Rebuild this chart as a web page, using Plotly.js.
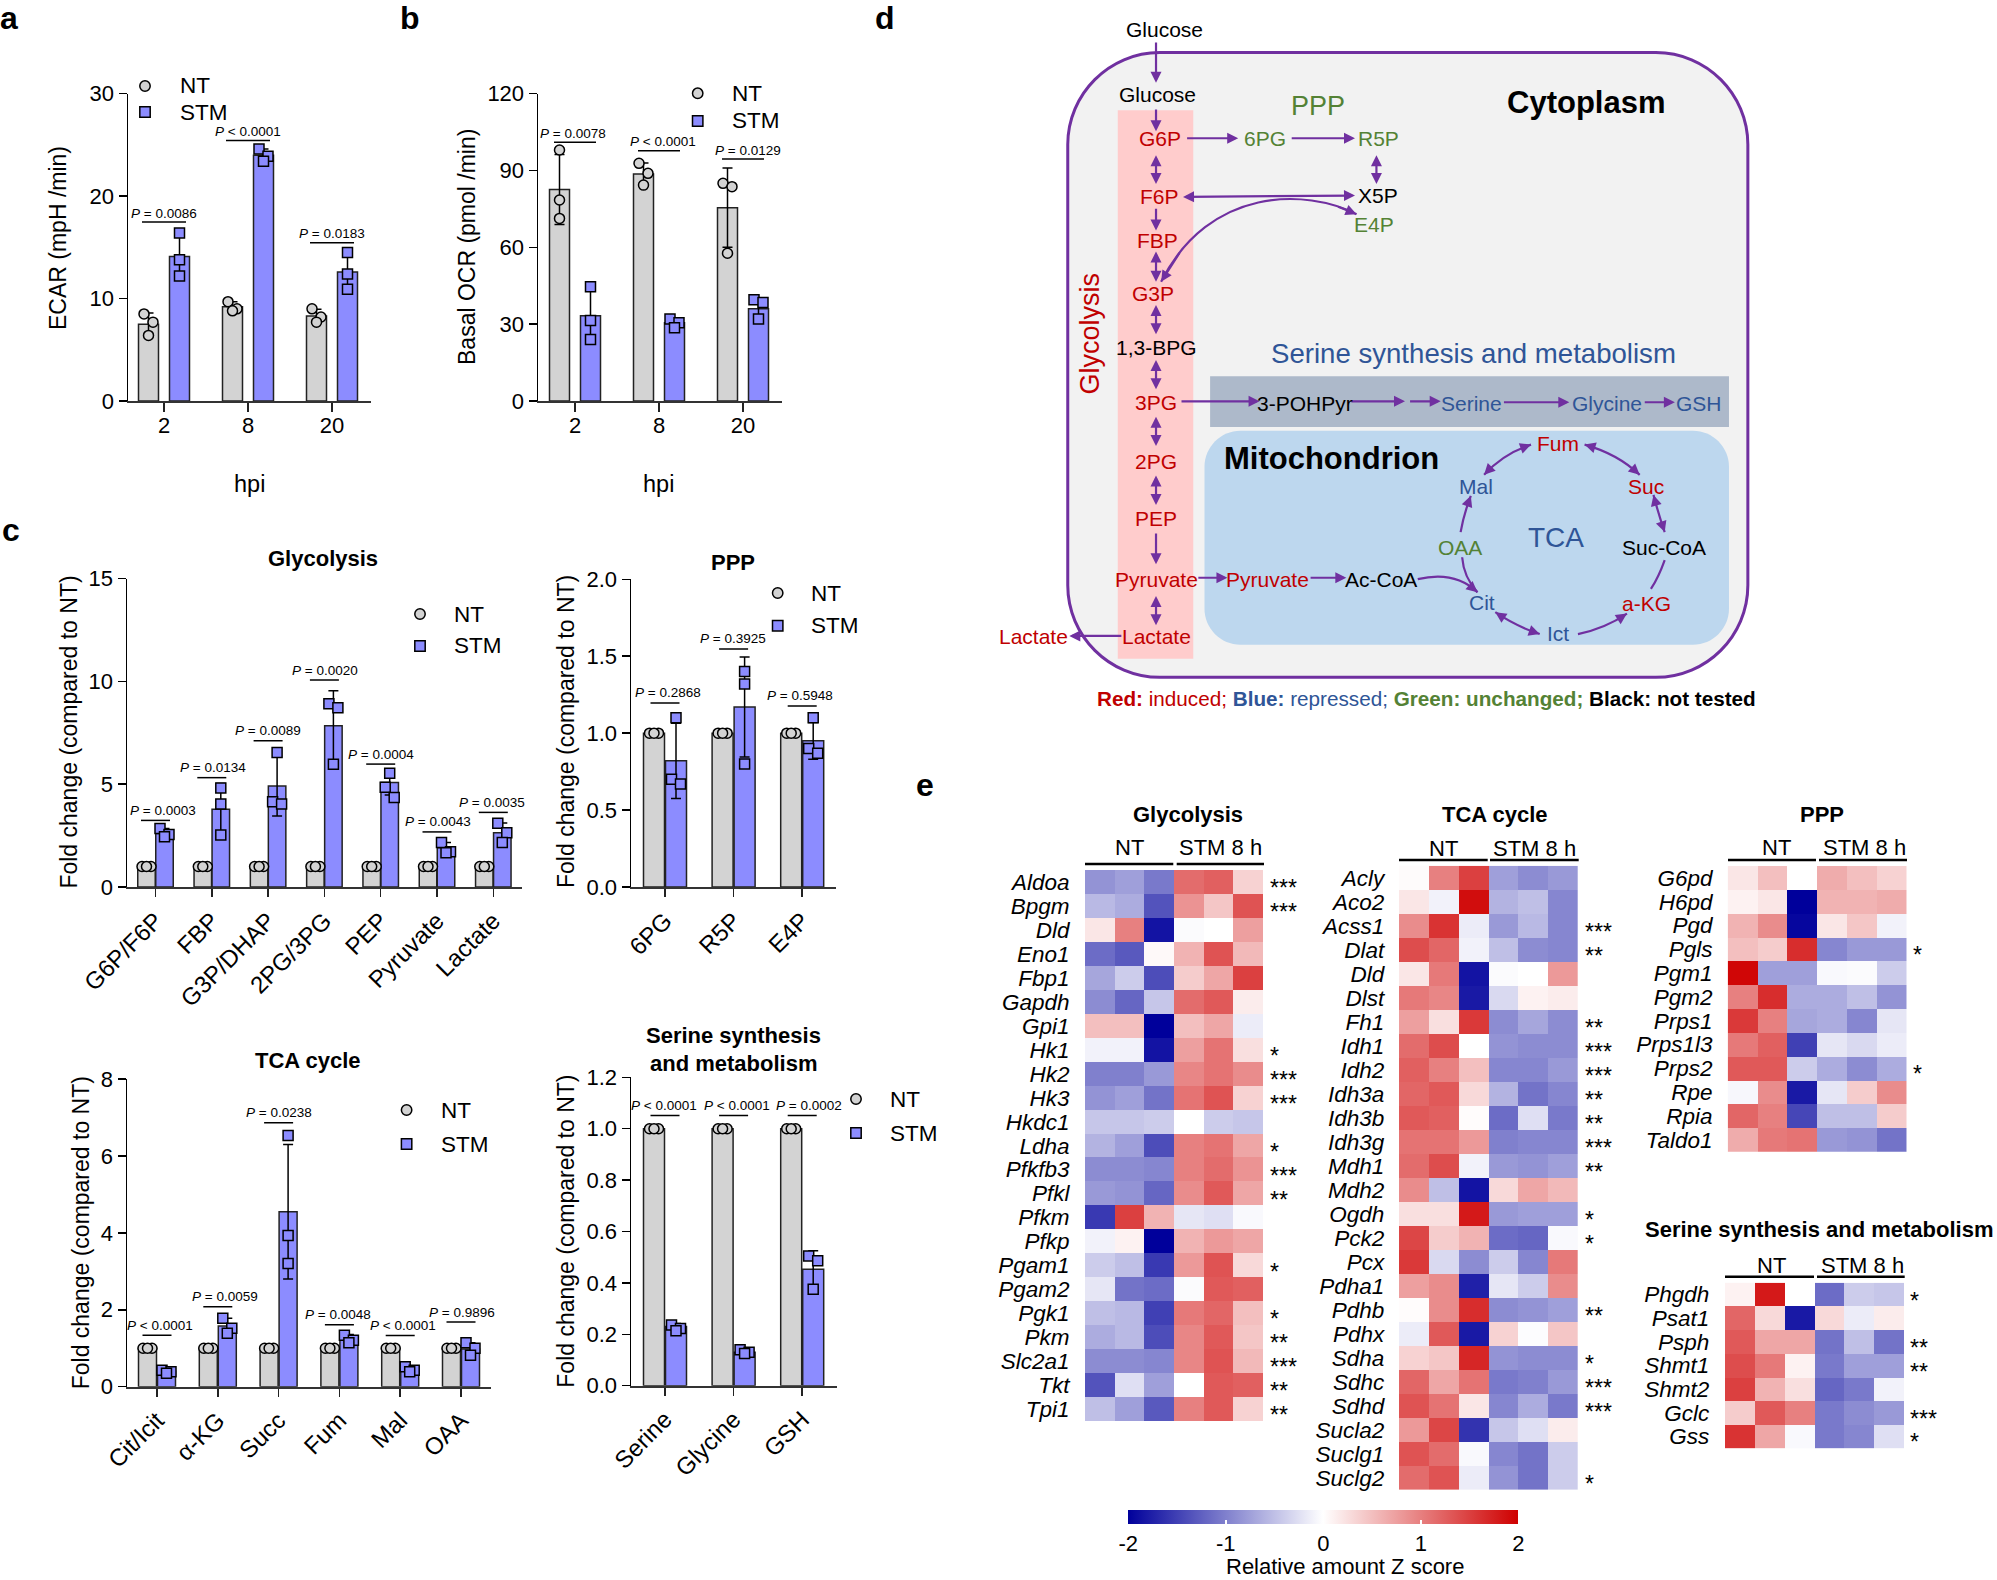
<!DOCTYPE html>
<html><head><meta charset="utf-8">
<script src="https://cdn.plot.ly/plotly-3.0.0.min.js"></script>
<style>html,body{margin:0;padding:0;background:#fff}</style>
</head><body><div id="chart" style="width:1997px;height:1580px"></div>
<script>
// ---------- DATA: bar panels ----------
const hpiCats=['2','8','20'];
const ecarNT=[7.5,9.2,8.3];
const ecarSTM=[14.1,24.0,12.6];
const ecarNTerr=[1.1,0.5,0.65];
const ecarSTMerr=[1.9,0.6,1.8];
const ecarNTpts=[[8.5,7.7,6.4],[9.7,9.0,8.8],[9.0,8.2,7.7]];
const ecarSTMpts=[[16.4,13.8,12.2],[24.6,23.9,23.4],[14.5,12.4,10.9]];
const ecarP=['<i>P</i> = 0.0086','<i>P</i> < 0.0001','<i>P</i> = 0.0183'];
const ecarLevels=[17.47,25.44,15.45];

const ocrNT=[82.6,88.6,75.5];
const ocrSTM=[33.3,30.6,36];
const ocrNTerr=[13.7,4.3,15.5];
const ocrSTMerr=[10.5,1.8,3.9];
const ocrNTpts=[[98,78.5,71.3],[92.8,88.9,84.3],[85,83.7,57.7]];
const ocrSTMpts=[[44.6,31.4,24],[32,30.6,28.6],[39.5,38.5,32]];
const ocrP=['<i>P</i> = 0.0078','<i>P</i> < 0.0001','<i>P</i> = 0.0129'];
const ocrLevels=[101,97.7,94.5];

const glyCats=['G6P/F6P','FBP','G3P/DHAP','2PG/3PG','PEP','Pyruvate','Lactate'];
const glyNT=[1,1,1,1,1,1,1];
const glySTM=[2.6,3.78,4.91,7.85,5.08,1.91,2.64];
const glySTMerr=[0.25,1.25,1.45,1.7,0.6,0.26,0.47];
const glySTMpts=[[2.85,2.55,2.45],[4.82,4.04,2.53],[6.55,4.15,4.04],[8.92,8.72,5.97],[5.53,4.85,4.36],[2.17,1.72,1.67],[3.1,2.64,2.17]];
const glyP=['<i>P</i> = 0.0003','<i>P</i> = 0.0134','<i>P</i> = 0.0089','<i>P</i> = 0.0020','<i>P</i> = 0.0004','<i>P</i> = 0.0043','<i>P</i> = 0.0035'];
const glyLevels=[3.24,5.32,7.12,10.07,5.98,2.68,3.63];

const pppCats=['6PG','R5P','E4P'];
const pppNT=[1,1,1];
const pppSTM=[0.82,1.17,0.95];
const pppSTMerr=[0.245,0.325,0.12];
const pppSTMpts=[[1.10,0.70,0.67],[1.40,1.32,0.80],[1.10,0.90,0.87]];
const pppP=['<i>P</i> = 0.2868','<i>P</i> = 0.3925','<i>P</i> = 0.5948'];
const pppLevels=[1.196,1.547,1.177];

const tcaCats=['Cit/Icit','α-KG','Succ','Fum','Mal','OAA'];
const tcaNT=[1,1,1,1,1,1];
const tcaSTM=[0.40,1.58,4.55,1.26,0.45,0.98];
const tcaSTMerr=[0.05,0.2,1.75,0.1,0.07,0.16];
const tcaSTMpts=[[0.43,0.39,0.35],[1.78,1.52,1.39],[6.53,3.93,3.2],[1.34,1.21,1.14],[0.52,0.43,0.39],[1.14,1.0,0.82]];
const tcaP=['<i>P</i> < 0.0001','<i>P</i> = 0.0059','<i>P</i> = 0.0238','<i>P</i> = 0.0048','<i>P</i> < 0.0001','<i>P</i> = 0.9896'];
const tcaLevels=[1.335,2.08,6.865,1.61,1.33,1.68];

const serCats=['Serine','Glycine','GSH'];
const serNT=[1,1,1];
const serSTM=[0.23,0.13,0.453];
const serSTMerr=[0.012,0.01,0.072];
const serSTMpts=[[0.236,0.223,0.214],[0.14,0.13,0.125],[0.505,0.486,0.375]];
const serP=['<i>P</i> < 0.0001','<i>P</i> < 0.0001','<i>P</i> = 0.0002'];
const serLevels=[1.051,1.051,1.051];

// ---------- DATA: heatmaps (NT x3, STM 8 h x3) ----------
const hmCols=['NT1','NT2','NT3','STM1','STM2','STM3'];
const hGlyGenes=['Aldoa','Bpgm','Dld','Eno1','Fbp1','Gapdh','Gpi1','Hk1','Hk2','Hk3','Hkdc1','Ldha','Pfkfb3','Pfkl','Pfkm','Pfkp','Pgam1','Pgam2','Pgk1','Pkm','Slc2a1','Tkt','Tpi1'];
const hGlyZ=[[-0.85,-0.75,-1.05,1.15,1.25,0.35],[-0.55,-0.65,-1.35,0.85,0.45,1.35],[0.2,1.0,-1.85,-0.03,0,0.75],[-1.15,-1.3,0.05,0.6,1.35,0.55],[-0.7,-0.4,-1.4,0.4,0.7,1.5],[-0.9,-1.2,-0.45,1.15,1.3,0.15],[0.5,0.5,-2,0.5,0.7,-0.15],[-0.1,-0.1,-1.85,0.75,1.1,0.25],[-1.0,-1.0,-0.8,0.95,1.1,0.9],[-0.85,-0.75,-1.1,1.1,1.35,0.35],[-0.45,-0.45,-0.4,0,-0.4,-0.45],[-0.6,-0.75,-1.4,1.0,1.1,0.7],[-0.9,-0.9,-0.95,1.0,1.15,0.85],[-0.8,-0.85,-1.2,0.9,1.3,0.7],[-1.55,1.5,0.6,-0.2,-0.25,-0.05],[-0.1,0.1,-2,0.6,0.8,0.7],[-0.4,-0.5,-1.55,0.8,1.35,0.3],[-0.2,-1.1,-1.15,-0.03,1.3,1.25],[-0.5,-0.55,-1.5,1.05,1.2,0.5],[-0.65,-0.55,-1.4,0.95,1.3,0.45],[-0.9,-0.9,-0.95,0.95,1.35,0.55],[-1.35,-0.25,-0.75,0,1.3,1.25],[-0.5,-0.75,-1.3,1.0,1.3,0.35]];
const hGlyStars=['***','***','','','','','','*','***','***','','*','***','**','','','*','','*','**','***','**','**'];

const hTcaGenes=['Acly','Aco2','Acss1','Dlat','Dld','Dlst','Fh1','Idh1','Idh2','Idh3a','Idh3b','Idh3g','Mdh1','Mdh2','Ogdh','Pck2','Pcx','Pdha1','Pdhb','Pdhx','Sdha','Sdhc','Sdhd','Sucla2','Suclg1','Suclg2'];
const hTcaZ=[[0.03,1.0,1.5,-0.75,-0.9,-0.8],[0.2,-0.1,1.9,-0.6,-0.5,-0.95],[0.9,1.6,-0.15,-0.8,-0.55,-0.95],[1.4,1.2,-0.1,-0.5,-0.9,-0.95],[0.2,1.05,-1.85,-0.03,0,0.8],[1.05,0.95,-1.8,-0.3,0.1,0.15],[0.75,0.25,1.55,-0.9,-0.7,-0.9],[1.15,1.4,0,-0.85,-0.9,-0.9],[1.25,1.0,0.5,-0.95,-0.95,-0.8],[1.2,1.3,0.3,-0.6,-1.1,-0.95],[1.3,1.25,0.02,-1.15,-0.25,-1.05],[1.1,1.1,0.8,-1.0,-0.95,-0.95],[1.15,1.4,-0.1,-0.8,-0.85,-0.75],[0.9,-0.5,-1.85,0.3,0.7,0.55],[0.25,0.25,1.8,-0.8,-0.75,-0.75],[1.45,0.4,0.6,-1.15,-1.2,-0.05],[1.55,-0.3,-0.9,-0.4,-0.95,1.05],[0.75,0.9,-1.75,-0.2,-0.4,0.9],[0.02,0.9,1.65,-0.9,-0.85,-0.75],[-0.15,1.3,-1.8,0.35,-0.02,0.45],[0.35,0.45,1.7,-0.85,-0.9,-0.9],[1.2,0.7,1.1,-1.05,-1.0,-0.8],[1.35,1.1,0.2,-0.95,-0.65,-1.05],[0.8,1.45,-1.6,-0.45,-0.25,0.15],[1.35,1.15,-0.05,-0.95,-1.1,-0.4],[1.15,1.35,-0.15,-0.85,-1.1,-0.4]];
const hTcaStars=['','','***','**','','','**','***','***','**','**','***','**','','*','*','','','**','','*','***','***','','','*'];

const hPppGenes=['G6pd','H6pd','Pgd','Pgls','Pgm1','Pgm2','Prps1','Prps1l3','Prps2','Rpe','Rpia','Taldo1'];
const hPppZ=[[0.2,0.5,0,0.65,0.5,0.35],[0.1,0.2,-2,0.6,0.6,0.65],[0.6,0.9,-1.95,0.2,0.45,-0.1],[0.5,0.4,1.65,-0.95,-0.8,-0.8],[1.95,-0.75,-0.75,-0.05,-0.03,-0.4],[1.0,1.65,-0.65,-0.65,-0.5,-0.85],[1.55,1.0,-0.7,-0.65,-0.95,-0.2],[1.05,1.25,-1.5,-0.2,-0.3,-0.15],[1.3,1.3,-0.4,-0.65,-0.9,-0.65],[-0.06,0.9,-1.8,-0.2,0.4,0.9],[1.2,1.0,-1.45,-0.5,-0.5,0.4],[0.65,1.05,1.1,-0.8,-0.85,-1.1]];
const hPppStars=['','','','*','','','','','*','','',''];

const hSerGenes=['Phgdh','Psat1','Psph','Shmt1','Shmt2','Gclc','Gss'];
const hSerZ=[[0.1,1.8,0,-1.15,-0.4,-0.45],[1.2,0.3,-1.8,0.3,-0.15,0.15],[1.3,0.7,0.7,-1.1,-0.5,-1.1],[1.4,1.05,0.1,-1.05,-0.75,-0.75],[1.5,0.6,0.25,-1.2,-1.05,-0.1],[0.4,1.3,1.0,-1.05,-0.9,-0.8],[1.6,0.7,-0.05,-1.05,-0.95,-0.25]];
const hSerStars=['*','','**','**','','***','*'];

const cbTicks=[-2,-1,0,1,2];
const cbLabels=['-2','-1','0','1','2'];

// ---------- DRAWING ----------
const W=1997,H=1580;
const FONT='"Liberation Sans", Arial, sans-serif';
const GRAY='#D3D3D3',BLUE='#8C8CFF';
const traces=[],shapes=[],annotations=[];
const layout={width:W,height:H,margin:{l:0,r:0,t:0,b:0,autoexpand:false},paper_bgcolor:'#fff',plot_bgcolor:'rgba(0,0,0,0)',
  font:{family:FONT,color:'#000'},showlegend:false,barmode:'overlay',shapes,annotations};
const fx=x=>x/W, fy=y=>1-y/H;
function txt(text,x,y,o={}){
  annotations.push({text,xref:'paper',yref:'paper',x:fx(x),y:fy(y),showarrow:false,xanchor:o.anchor||'center',yanchor:'middle',
    textangle:o.angle||0,borderpad:0,font:{family:FONT,size:o.size||22,color:o.color||'#000'}});
}
function legendMarks(mx,tx,y1,y2){
  const r=5.2;
  shapes.push({type:'circle',xref:'paper',yref:'paper',x0:fx(mx-r),x1:fx(mx+r),y0:fy(y1+r),y1:fy(y1-r),fillcolor:GRAY,line:{color:'#000',width:1.5}});
  shapes.push({type:'rect',xref:'paper',yref:'paper',x0:fx(mx-r),x1:fx(mx+r),y0:fy(y2+r),y1:fy(y2-r),fillcolor:BLUE,line:{color:'#000',width:1.5}});
  txt('NT',tx-2.5,y1,{anchor:'left',size:22.5}); txt('STM',tx-2.5,y2,{anchor:'left',size:22.5});
}
function spread(pts,unitPx){
  // keeps close replicate symbols side by side, as the scatter-on-bar style does
  const s=[...pts]; const close=(a,b)=>Math.abs(a-b)*unitPx<11; const d=4.5;
  const a=close(s[0],s[1]),b=close(s[1],s[2]);
  if(a&&b) return [-d,d,0];
  if(a) return [-d,d,0];
  if(b) return [0,-d,d];
  return [0,0,0];
}
let axisCount=0;
function nextId(){axisCount++;return axisCount===1?'':String(axisCount);}
function barPanel(c){
  const id=nextId();
  const unitPx=(c.B-c.T)/c.ymax;
  layout['xaxis'+id]={domain:[fx(c.L),fx(c.R)],range:[(c.L-c.t0)/c.sp,(c.R-c.t0)/c.sp],anchor:'y'+id,
    tickmode:'array',tickvals:c.cats.map((_,i)=>i),ticktext:c.cats,ticks:'outside',ticklen:c.angle?8:9,tickwidth:1.5,tickcolor:'#222',
    showline:true,linewidth:2.2,linecolor:'#333',showgrid:false,zeroline:false,tickangle:c.angle||0,ticklabelstandoff:c.angle?0:-6,
    tickfont:{family:FONT,size:c.angle?24:22}};
  layout['yaxis'+id]={domain:[fy(c.B),fy(c.T)],range:[0,c.ymax],anchor:'x'+id,
    tickmode:'array',tickvals:c.yticks,ticktext:c.yticks.map(v=>c.dec?v.toFixed(c.dec):String(v)),ticks:'outside',ticklen:8,tickwidth:1.5,tickcolor:'#000',
    showline:true,linewidth:1.5,linecolor:'#000',showgrid:false,zeroline:false,tickfont:{family:FONT,size:22}};
  const xa='x'+id,ya='y'+id,w=c.bwPx/c.sp,off=c.offPx/c.sp;
  const bar=(vals,err,sgn,col,name)=>{
    const t={type:'bar',name,x:vals.map((_,i)=>i+sgn*off),y:vals,width:w,xaxis:xa,yaxis:ya,
      marker:{color:col,line:{color:'#222',width:1.5}}};
    if(err) t.error_y={type:'data',array:err,visible:true,color:'#000',thickness:1.5,width:5};
    traces.push(t);
  };
  bar(c.nt,c.ntErr,-1,GRAY,'NT'); bar(c.stm,c.stmErr,1,BLUE,'STM');
  const pts=(groups,sgn,col,sym,name)=>{
    const xs=[],ys=[];
    groups.forEach((g,i)=>{const sp=spread(g,unitPx);g.forEach((v,k)=>{xs.push(i+sgn*off+sp[k]/c.sp);ys.push(v);});});
    traces.push({type:'scatter',mode:'markers',name,x:xs,y:ys,xaxis:xa,yaxis:ya,cliponaxis:false,
      marker:{symbol:sym,size:10,color:col,line:{color:'#000',width:1.5}}});
  };
  pts(c.ntPts||c.nt.map(v=>[v,v,v]),-1,GRAY,'circle','NT');
  pts(c.stmPts,1,BLUE,'square','STM');
  c.p.forEach((label,i)=>{
    const sh=(c.pShift?c.pShift[i]:0)/c.sp;
    shapes.push({type:'line',xref:xa,yref:ya,x0:i-c.pHalf/c.sp,x1:i+c.pHalf/c.sp,y0:c.levels[i],y1:c.levels[i],line:{color:'#000',width:1.5}});
    annotations.push({text:label,xref:xa,yref:ya,x:i+sh,y:c.levels[i],yshift:c.pUp,showarrow:false,xanchor:'center',yanchor:'middle',borderpad:0,
      font:{family:FONT,size:13.5,color:'#000'}});
  });
}
barPanel({L:128,R:371,T:93.7,B:401,t0:164,sp:84,ymax:30,yticks:[0,10,20,30],cats:hpiCats,nt:ecarNT,stm:ecarSTM,ntErr:ecarNTerr,stmErr:ecarSTMerr,ntPts:ecarNTpts,stmPts:ecarSTMpts,bwPx:20,offPx:15.5,p:ecarP,levels:ecarLevels,pHalf:22,pUp:9});
barPanel({L:538,R:782,T:93.7,B:401,t0:575,sp:84,ymax:120,yticks:[0,30,60,90,120],cats:hpiCats,nt:ocrNT,stm:ocrSTM,ntErr:ocrNTerr,stmErr:ocrSTMerr,ntPts:ocrNTpts,stmPts:ocrSTMpts,bwPx:20,offPx:15.5,p:ocrP,levels:ocrLevels,pHalf:21,pUp:9,pShift:[-2,4,5]});
barPanel({L:127,R:522,T:578.7,B:887,t0:155.5,sp:56.3,ymax:15,yticks:[0,5,10,15],cats:glyCats,nt:glyNT,stm:glySTM,stmErr:glySTMerr,stmPts:glySTMpts,bwPx:17.5,offPx:9,p:glyP,levels:glyLevels,pHalf:14.5,pUp:10,angle:-45,pShift:[7,1,0,1,0,1,-1]});
barPanel({L:631,R:836,T:579.3,B:887,t0:665,sp:68.6,ymax:2,dec:1,yticks:[0,0.5,1,1.5,2],cats:pppCats,nt:pppNT,stm:pppSTM,stmErr:pppSTMerr,stmPts:pppSTMpts,bwPx:21,offPx:11,p:pppP,levels:pppLevels,pHalf:14.5,pUp:10,angle:-45,pShift:[3,-1,-2]});
barPanel({L:127,R:490.5,T:1079,B:1386.7,t0:157,sp:60.8,ymax:8,yticks:[0,2,4,6,8],cats:tcaCats,nt:tcaNT,stm:tcaSTM,stmErr:tcaSTMerr,stmPts:tcaSTMpts,bwPx:18,offPx:9.5,p:tcaP,levels:tcaLevels,pHalf:14.5,pUp:10,angle:-45,pShift:[3,7,0,-1,3,1]});
barPanel({L:631,R:836.5,T:1077.3,B:1385.7,t0:665,sp:68.6,ymax:1.2,dec:1,yticks:[0,0.2,0.4,0.6,0.8,1,1.2],cats:serCats,nt:serNT,stm:serSTM,stmErr:serSTMerr,stmPts:serSTMpts,bwPx:21,offPx:11,p:serP,levels:serLevels,pHalf:14.5,pUp:10,angle:-45,pShift:[-1,3,7]});

// axis titles and panel headings
txt('ECAR (mpH /min)',58,238,{angle:-90,size:23});
txt('Basal OCR (pmol /min)',467,247,{angle:-90,size:23});
txt('hpi',249,484,{size:23.5}); txt('hpi',658,484,{size:23.5});
const fold='Fold change (compared to NT)';
txt(fold,68.6,732,{angle:-90,size:23}); txt(fold,566,732,{angle:-90,size:23});
txt(fold,80.8,1232.5,{angle:-90,size:23}); txt(fold,566,1231.7,{angle:-90,size:23});
txt('<b>Glycolysis</b>',323,558); txt('<b>PPP</b>',733,562); txt('<b>TCA cycle</b>',308,1060.7);
txt('<b>Serine synthesis</b>',733.6,1035); txt('<b>and metabolism</b>',733.6,1063);
legendMarks(145,181,86,112); legendMarks(697.7,733,93.3,121);
legendMarks(420,455,614,646); legendMarks(777.7,812.6,593,625.7);
legendMarks(406.6,442,1110,1144); legendMarks(856,891,1099,1133);
// panel letters
[['a',9,18.5],['b',410,18.5],['c',11,530],['d',885,18.5],['e',925,785]].forEach(l=>txt('<b>'+l[0]+'</b>',l[1],l[2],{size:32}));

// heatmaps
const CS=[[0,'#00009B'],[0.5,'#FFFFFF'],[1,'#CF0000']];
function heat(c){
  const id=nextId();
  layout['xaxis'+id]={domain:[fx(c.L),fx(c.R)],anchor:'y'+id,visible:false,range:[-0.5,5.5],fixedrange:true};
  layout['yaxis'+id]={domain:[fy(c.B),fy(c.T)],anchor:'x'+id,range:[c.genes.length-0.5,-0.5],type:'category',ticks:'outside',ticklen:c.L-c.lab-3,tickcolor:'rgba(0,0,0,0)',tickwidth:0.1,
    showline:false,showgrid:false,zeroline:false,tickmode:'array',tickvals:c.genes,ticktext:c.genes,tickfont:{family:FONT,size:22.5,style:'italic'}};
  const t={type:'heatmap',x:hmCols.map((_,i)=>i),y:c.genes,z:c.z,xaxis:'x'+id,yaxis:'y'+id,colorscale:CS,zmin:-2,zmax:2,showscale:!!c.scale,xgap:0,ygap:0};
  if(c.scale) t.colorbar={orientation:'h',x:fx(1128.3),xanchor:'left',y:fy(1510.3),yanchor:'top',lenmode:'pixels',len:390.4,thicknessmode:'pixels',thickness:14,xpad:0,ypad:0,
    outlinewidth:0,tickmode:'array',tickvals:cbTicks,ticktext:cbLabels,ticks:'inside',ticklen:4,tickwidth:1.5,tickcolor:'#fff',tickfont:{family:FONT,size:22,color:'#000'}};
  traces.push(t);
  c.stars.forEach((s,i)=>{ if(s) annotations.push({text:s,xref:'paper',yref:'y'+id,x:fx(c.star),y:c.genes[i],yshift:-6,showarrow:false,xanchor:'left',yanchor:'middle',borderpad:0,font:{family:FONT,size:23,color:'#000'}}); });
  txt('<b>'+c.title+'</b>',c.tx,c.ty);
  txt('NT',c.nx,c.gy); txt('STM 8 h',c.sx,c.gy);
  [[c.l1,c.l2],[c.l3,c.l4]].forEach(p=>shapes.push({type:'line',xref:'paper',yref:'paper',x0:fx(p[0]),x1:fx(p[1]),y0:fy(c.ly),y1:fy(c.ly),line:{color:'#000',width:2.5}}));
}
heat({L:1085,R:1263.3,T:870,B:1421.3,lab:1072,star:1269,genes:hGlyGenes,z:hGlyZ,stars:hGlyStars,title:'Glycolysis',tx:1188,ty:814,nx:1129,sx:1220.7,gy:847.7,ly:864,l1:1085,l2:1173.3,l3:1176.7,l4:1264});
heat({L:1399,R:1577.7,T:865.8,B:1489.7,lab:1386.7,star:1584,genes:hTcaGenes,z:hTcaZ,stars:hTcaStars,title:'TCA cycle',tx:1495,ty:814,nx:1443,sx:1534,gy:848,ly:860,l1:1399,l2:1487.7,l3:1490,l4:1578.7,scale:true});
heat({L:1727.7,R:1906.7,T:866,B:1151.7,lab:1715,star:1912,genes:hPppGenes,z:hPppZ,stars:hPppStars,title:'PPP',tx:1822.3,ty:814,nx:1776.7,sx:1864,gy:847.7,ly:860,l1:1728,l2:1816,l3:1819,l4:1907});
heat({L:1725,R:1904,T:1282.7,B:1448.3,lab:1711.7,star:1908.7,genes:hSerGenes,z:hSerZ,stars:hSerStars,title:'Serine synthesis and metabolism',tx:1819,ty:1229,nx:1771,sx:1862,gy:1265,ly:1276.7,l1:1725,l2:1814,l3:1817,l4:1904.7});
txt('Relative amount Z score',1345,1566);

// pathway diagram (panel d)
const dX=z=>980+z/1.96, dY=z=>z/2.148;
const PUR='#7030A0',RED='#C00000',GRN='#548235',BLU='#2F5597';
const P=(x,y)=>fx(x)+','+fy(y);
function rrect(x0,y0,x1,y1,r,fill,line){
  const k=r*0.45;
  const d='M'+P(x0+r,y0)+' L'+P(x1-r,y0)+' C'+P(x1-k,y0)+' '+P(x1,y0+k)+' '+P(x1,y0+r)+' L'+P(x1,y1-r)+' C'+P(x1,y1-k)+' '+P(x1-k,y1)+' '+P(x1-r,y1)+
    ' L'+P(x0+r,y1)+' C'+P(x0+k,y1)+' '+P(x0,y1-k)+' '+P(x0,y1-r)+' L'+P(x0,y0+r)+' C'+P(x0,y0+k)+' '+P(x0+k,y0)+' '+P(x0+r,y0)+' Z';
  shapes.push({type:'path',xref:'paper',yref:'paper',path:d,fillcolor:fill,line:line||{width:0}});
}
rrect(dX(172),dY(113),dX(1505),dY(1455),92,'#F2F2F2',{color:PUR,width:3});
shapes.push({type:'rect',xref:'paper',yref:'paper',x0:fx(dX(270)),x1:fx(dX(418)),y0:fy(dY(1415)),y1:fy(dY(237)),fillcolor:'#FFCCCC',line:{width:0}});
shapes.push({type:'rect',xref:'paper',yref:'paper',x0:fx(dX(451)),x1:fx(dX(1468)),y0:fy(dY(917)),y1:fy(dY(808)),fillcolor:'#ADB9CA',line:{width:0}});
rrect(dX(440),dY(925),dX(1468),dY(1385),36,'#BDD7EE');

function arrow(x0,y0,x1,y1,both){
  const X0=dX(x0),Y0=dY(y0),X1=dX(x1),Y1=dY(y1);
  const a={text:'',xref:'paper',yref:'paper',x:fx(X1),y:fy(Y1),ax:X0-X1,ay:Y0-Y1,axref:'pixel',ayref:'pixel',showarrow:true,arrowhead:2,arrowsize:1,arrowwidth:2.2,arrowcolor:PUR};
  if(both){a.arrowside='end+start';a.startarrowhead=2;a.startarrowsize=1;}
  annotations.push(a);
}
[[345,88,345,178],[345,232,345,282],[403,297,506,297],[608,297,735,297],[777,330,777,395,1],[345,330,345,395,1],[395,423,735,420,1],[345,445,345,495],
 [345,537,345,605,1],[345,652,345,718,1],[345,770,345,836,1],[345,892,345,958,1],[345,1018,345,1085,1],[345,1143,345,1212],[345,1277,345,1343,1],[280,1366,175,1366],
 [425,1241,485,1241],[645,1241,718,1241],[392,862,548,862],[725,862,833,862],[840,862,903,862],[1024,864,1155,864],[1300,864,1362,864]].forEach(a=>arrow(...a));
function bez(p,t){let q=p.map(v=>v.slice());while(q.length>1){const n=[];for(let i=0;i<q.length-1;i++)n.push([q[i][0]*(1-t)+q[i+1][0]*t,q[i][1]*(1-t)+q[i+1][1]*t]);q=n;}return q[0];}
function curve(p,both){
  const c=p.map(v=>P(dX(v[0]),dY(v[1])));
  const d='M'+c[0]+(p.length===3?' Q':' C')+c.slice(1).join(' ');
  shapes.push({type:'path',xref:'paper',yref:'paper',path:d,line:{color:PUR,width:2.2}});
  const e=bez(p,0.88); arrow(e[0],e[1],p[p.length-1][0],p[p.length-1][1]);
  if(both){const s=bez(p,0.12); arrow(s[0],s[1],p[0][0],p[0][1]);}
}
curve([[738,460],[640,405],[450,400],[355,605]],true);
curve([[858,1244],[930,1225],[975,1272]]);
curve([[945,1197],[948,1240],[975,1272]]);
curve([[1080,955],[1025,975],[988,1020]],true);
curve([[1185,955],[1250,975],[1293,1020]],true);
curve([[1320,1063],[1330,1105],[1342,1143]],true);
curve([[962,1065],[948,1105],[942,1143]],true);
curve([[1010,1315],[1050,1345],[1097,1362]],true);
curve([[1172,1362],[1225,1350],[1268,1318]]);
curve([[1315,1265],[1330,1240],[1342,1203]]);

const dT=(t,zx,zy,color,o={})=>txt(t,dX(zx),dY(zy),Object.assign({size:21,color},o));
[['Glucose',362,63,'#000'],['Glucose',348,204,'#000'],['G6P',352,298,RED],['6PG',558,298,GRN],['R5P',781,298,GRN],['X5P',781,420,'#000'],['E4P',773,482,GRN],
 ['F6P',352,423,RED],['FBP',348,517,RED],['G3P',340,630,RED],['1,3-BPG',345,747,'#000'],['3PG',344,864,RED],['2PG',344,991,RED],['PEP',344,1113,RED],['Pyruvate',345,1244,RED],
 ['Lactate',345,1367,RED],['Lactate',105,1367,RED],['3-POHPyr',637,866,'#000'],['Serine',963,866,BLU],['Glycine',1229,866,BLU],['GSH',1409,866,BLU],
 ['Fum',1132,953,RED],['Mal',972,1046,BLU],['Suc',1305,1046,RED],['OAA',940,1176,GRN],['Suc-CoA',1340,1176,'#000'],['Pyruvate',563,1244,RED],['Ac-CoA',785,1244,'#000'],
 ['Cit',984,1295,BLU],['a-KG',1307,1296,RED],['Ict',1132,1360,BLU]].forEach(a=>dT(...a));
dT('PPP',662,228,GRN,{size:27});
dT('<b>Cytoplasm</b>',1187,221,'#000',{size:31});
dT('Glycolysis',215,717,RED,{size:27,angle:-90});
dT('Serine synthesis and metabolism',967,760,BLU,{size:27.6});
dT('<b>Mitochondrion</b>',688,985,'#000',{size:31});
dT('TCA',1128,1155,BLU,{size:28});
dT('<span style="color:'+RED+'"><b>Red:</b> induced; </span><span style="color:'+BLU+'"><b>Blue:</b> repressed; </span><span style="color:'+GRN+'"><b>Green: unchanged; </b></span><b>Black: not tested</b>',875,1500,'#000',{size:20.7});

Plotly.newPlot('chart',traces,layout,{displayModeBar:false,staticPlot:true});
</script></body></html>
